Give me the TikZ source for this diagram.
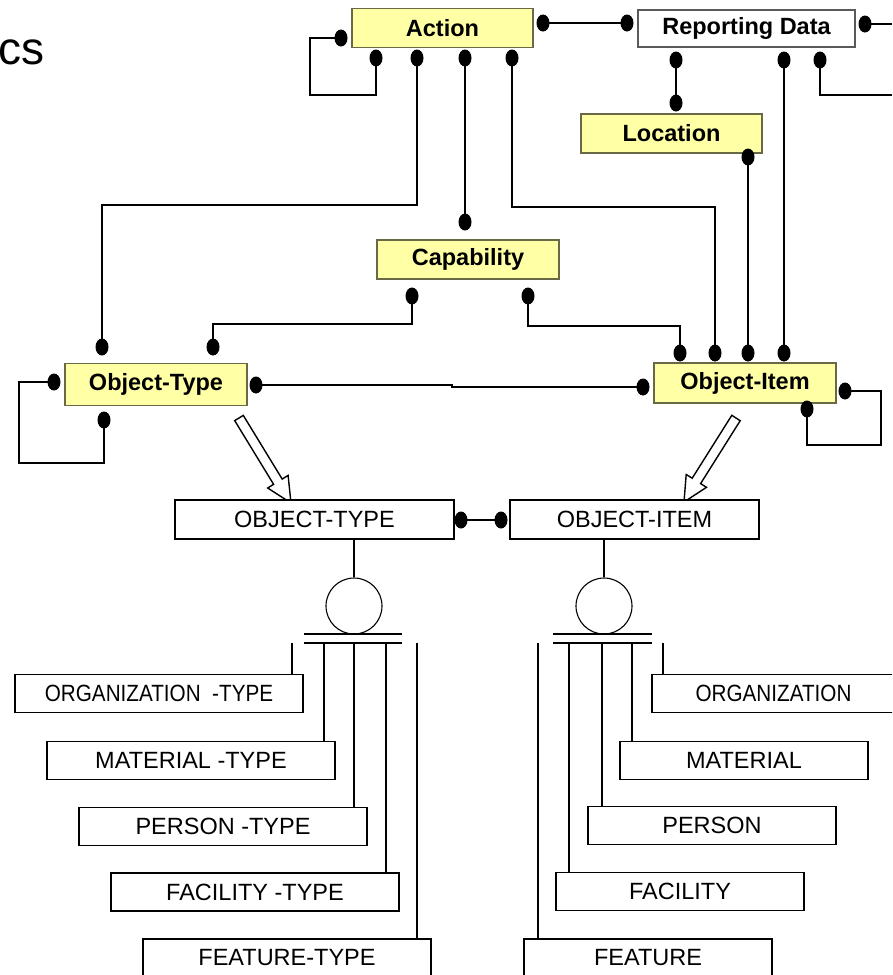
\documentclass[tikz,border=0pt]{standalone}
\usepackage{fontspec}
\setmainfont{Liberation Sans}
\usetikzlibrary{shapes.geometric,calc}
\definecolor{entfill}{RGB}{255,255,165}
\definecolor{entborder}{RGB}{105,105,70}
\definecolor{rdborder}{RGB}{90,90,90}
\begin{document}
\begin{tikzpicture}[x=1pt,y=-1pt,
  ent/.style={draw=entborder, fill=entfill, line width=1.2pt, minimum height=39pt, inner sep=0pt,
    font=\bfseries\fontsize{23.5}{27}\selectfont},
  plainbox/.style={draw=black, line width=1.1pt, fill=white, minimum height=38pt, inner sep=0pt,
    font=\fontsize{23.5}{27}\selectfont},
  dot/.style={ellipse, fill=black, draw=none, minimum width=13pt, minimum height=17pt, inner sep=0pt},
  conn/.style={line width=1.2pt, line join=miter},
  hollow/.style={line width=1.4pt, fill=white, line join=miter}]
\useasboundingbox (0,0) rectangle (892,975);
\clip (0,0) rectangle (892,975);

% title fragment
\node[anchor=base east, font=\fontsize{46}{52}\selectfont, inner sep=0pt] (title) at (45,64) {cs};

% entity boxes
\node[ent, minimum width=181pt] (action) at (442.5,28) {Action};
\node[ent, fill=white, draw=rdborder, minimum width=217pt, minimum height=37pt] (repdata) at (746.5,28.5) {Reporting Data};
\node[ent, minimum width=181pt] (location) at (671.5,133.5) {Location};
\node[ent, minimum width=182pt] (capability) at (468,259.5) {Capability};
\node[ent, minimum width=182pt, minimum height=42pt] (objtype) at (156,384.5) {Object-Type};
\node[ent, minimum width=182pt, minimum height=40pt] (objitem) at (745,383) {Object-Item};

% dots
\node[dot] (aL) at (341,38) {};
\node[dot] (aR) at (543,23) {};
\node[dot] (rL) at (627,23) {};
\node[dot] (rR) at (865,24) {};
\node[dot] (aB1) at (376,58) {};
\node[dot] (aB2) at (417,58) {};
\node[dot] (aB3) at (465,58) {};
\node[dot] (aB4) at (512,58) {};
\node[dot] (rB1) at (676,60) {};
\node[dot] (rB2) at (784,60) {};
\node[dot] (rB3) at (820,60) {};
\node[dot] (locT) at (676,103) {};
\node[dot] (locB) at (748,157) {};
\node[dot] (capT) at (465,222) {};
\node[dot] (capB1) at (412,296) {};
\node[dot] (capB2) at (528,296) {};
\node[dot] (otT1) at (102,347) {};
\node[dot] (otT2) at (213,347) {};
\node[dot] (otL) at (54,382) {};
\node[dot] (otR) at (256,385) {};
\node[dot] (otB) at (104,420) {};
\node[dot] (oiT1) at (680,353) {};
\node[dot] (oiT2) at (715,353) {};
\node[dot] (oiT3) at (748,353) {};
\node[dot] (oiT4) at (784,353) {};
\node[dot] (oiL) at (643,387) {};
\node[dot] (oiR) at (845,391) {};
\node[dot] (oiB) at (807,409) {};

\coordinate (e1) at (892,24);
\coordinate (e2) at (892,95);

% connectors
\draw[conn] (aL.center) -| (310,95) -| (aB1.center);
\draw[conn] (aR.center) -- (rL.center);
\draw[conn] (rR.center) -- (e1);
\draw[conn] (aB2.center) -- (aB2.center |- 0,205) -| (otT1.center);
\draw[conn] (aB3.center) -- (capT.center);
\draw[conn] (aB4.center) -- (aB4.center |- 0,207) -| (oiT2.center);
\draw[conn] (rB1.center) -- (locT.center);
\draw[conn] (rB2.center) -- (oiT4.center);
\draw[conn] (rB3.center) |- (e2);
\draw[conn] (locB.center) -- (oiT3.center);
\draw[conn] (capB1.center) -- (capB1.center |- 0,324) -| (otT2.center);
\draw[conn] (capB2.center) -- (capB2.center |- 0,326) -| (oiT1.center);
\draw[conn] (otL.center) -| (19,463) -| (otB.center);
\draw[conn] (otR.center) -- (452,385) -- (452,387) -- (oiL.center);
\draw[conn] (oiR.center) -| (881,445) -| (oiB.center);

% hollow arrows
\draw[hollow] (243.3,415.4) -- (282.2,479.1) -- (288.1,475.4) -- (291,503) -- (267.7,488.0) -- (273.6,484.3) -- (234.7,420.6) -- cycle;
\draw[hollow] (740.2,420.7) -- (700.6,483.6) -- (706.5,487.3) -- (684,502) -- (686.2,474.5) -- (692.2,478.2) -- (731.8,415.3) -- cycle;

% lower boxes
\node[plainbox, minimum width=279pt, minimum height=39pt] (OT) at (314.5,519.5) {OBJECT-TYPE};
\node[plainbox, minimum width=249pt, minimum height=39pt] (OI) at (634.5,519.5) {OBJECT-ITEM};
\node[dot] (otD) at (461,520) {};
\node[dot] (oiD) at (501,520) {};
\draw[conn] (otD.center) -- (oiD.center);

\node[circle, draw, line width=1.1pt, minimum size=56pt, inner sep=0pt] (c1) at (354,606) {};
\node[circle, draw, line width=1.1pt, minimum size=56pt, inner sep=0pt] (c2) at (604,606) {};
\draw[conn] (c1.north) -- (c1.north |- OT.south);
\draw[conn] (c2.north) -- (c2.north |- OI.south);
\draw[line width=2pt] (304,634) -- (402,634);
\draw[line width=1.3pt] (304,643) -- (402,643);
\draw[line width=2pt] (553,634) -- (652,634);
\draw[line width=1.3pt] (553,643) -- (652,643);

\node[plainbox, minimum width=288pt] (orgT) at (159,693.5) {\scalebox{0.88}[1]{ORGANIZATION\ \ -TYPE}};
\node[plainbox, minimum width=288pt] (matT) at (191,760.5) {MATERIAL -TYPE};
\node[plainbox, minimum width=288pt] (perT) at (223,826.5) {PERSON -TYPE};
\node[plainbox, minimum width=288pt] (facT) at (255,892) {FACILITY -TYPE};
\node[plainbox, minimum width=288pt] (feaT) at (287,958) {FEATURE-TYPE};

\node[plainbox, minimum width=243pt] (org) at (773.5,693.5) {\scalebox{0.88}[1]{ORGANIZATION}};
\node[plainbox, minimum width=248pt] (mat) at (744,760.5) {MATERIAL};
\node[plainbox, minimum width=248pt] (per) at (712,825.5) {PERSON};
\node[plainbox, minimum width=248pt] (fac) at (680,891.5) {FACILITY};
\node[plainbox, minimum width=248pt] (fea) at (648,958) {FEATURE};

\draw[conn] (292,643) -- (292,0 |- orgT.north);
\draw[conn] (324,643) -- (324,0 |- matT.north);
\draw[conn] (354,643) -- (354,0 |- perT.north);
\draw[conn] (386,643) -- (386,0 |- facT.north);
\draw[conn] (417,643) -- (417,0 |- feaT.north);

\draw[conn] (663,643) -- (663,0 |- org.north);
\draw[conn] (632,643) -- (632,0 |- mat.north);
\draw[conn] (602,643) -- (602,0 |- per.north);
\draw[conn] (569,643) -- (569,0 |- fac.north);
\draw[conn] (538,643) -- (538,0 |- fea.north);
\end{tikzpicture}
\end{document}
